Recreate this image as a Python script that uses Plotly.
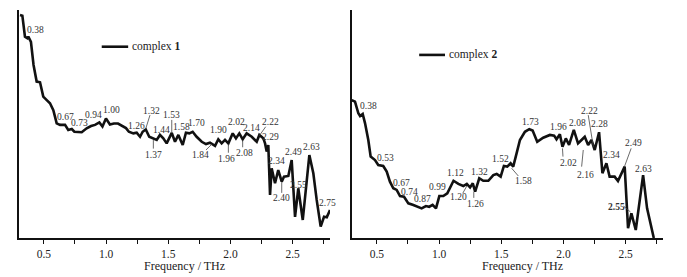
import plotly.graph_objects as go

# ---------------- data (frequency in THz, normalised absorbance, arbitrary units) ----------------
freq1 = [0.308, 0.327, 0.348, 0.367, 0.375, 0.396, 0.417, 0.442, 0.469, 0.495, 0.523, 0.549, 0.576,
         0.603, 0.630, 0.670, 0.696, 0.724, 0.745, 0.774, 0.804, 0.844, 0.879, 0.911, 0.946, 0.971,
         0.999, 1.031, 1.063, 1.096, 1.128, 1.160, 1.183, 1.219, 1.246, 1.273, 1.294, 1.319, 1.347,
         1.380, 1.407, 1.433, 1.460, 1.487, 1.514, 1.528, 1.554, 1.581, 1.616, 1.642, 1.669, 1.696,
         1.728, 1.769, 1.803, 1.835, 1.876, 1.902, 1.929, 1.956, 1.983, 2.018, 2.044, 2.071, 2.098,
         2.130, 2.171, 2.211, 2.232, 2.264, 2.278, 2.291, 2.304, 2.318, 2.331, 2.358, 2.384, 2.412,
         2.430, 2.465, 2.492, 2.519, 2.545, 2.581, 2.634, 2.666, 2.693, 2.725, 2.752, 2.774, 2.800]
abs1 = [0.978, 0.975, 0.883, 0.876, 0.883, 0.860, 0.759, 0.686, 0.683, 0.620, 0.605, 0.591, 0.561,
        0.503, 0.496, 0.496, 0.474, 0.478, 0.466, 0.465, 0.464, 0.481, 0.491, 0.496, 0.507, 0.489,
        0.524, 0.498, 0.502, 0.502, 0.493, 0.482, 0.466, 0.459, 0.462, 0.444, 0.466, 0.476, 0.444,
        0.437, 0.430, 0.452, 0.437, 0.415, 0.444, 0.461, 0.422, 0.452, 0.408, 0.462, 0.459, 0.466,
        0.444, 0.422, 0.412, 0.418, 0.404, 0.433, 0.415, 0.430, 0.415, 0.459, 0.437, 0.459, 0.433,
        0.459, 0.444, 0.422, 0.452, 0.437, 0.415, 0.379, 0.408, 0.189, 0.306, 0.240, 0.298, 0.247,
        0.269, 0.272, 0.342, 0.093, 0.218, 0.079, 0.364, 0.284, 0.167, 0.050, 0.093, 0.091, 0.123]

freq2 = [0.298, 0.324, 0.351, 0.365, 0.386, 0.405, 0.431, 0.450, 0.485, 0.511, 0.551, 0.579, 0.605,
         0.632, 0.659, 0.686, 0.718, 0.753, 0.793, 0.833, 0.860, 0.894, 0.921, 0.948, 0.975, 1.002,
         1.034, 1.066, 1.088, 1.116, 1.155, 1.195, 1.223, 1.249, 1.271, 1.290, 1.323, 1.355, 1.396,
         1.436, 1.463, 1.495, 1.521, 1.548, 1.575, 1.596, 1.623, 1.650, 1.690, 1.725, 1.752, 1.789,
         1.837, 1.891, 1.925, 1.944, 1.971, 1.992, 2.019, 2.045, 2.083, 2.117, 2.145, 2.171, 2.198,
         2.225, 2.251, 2.286, 2.313, 2.345, 2.371, 2.411, 2.438, 2.492, 2.519, 2.546, 2.581, 2.640,
         2.672, 2.726]
abs2 = [0.605, 0.598, 0.547, 0.535, 0.544, 0.503, 0.430, 0.357, 0.342, 0.320, 0.316, 0.291, 0.247,
        0.218, 0.211, 0.184, 0.181, 0.152, 0.145, 0.135, 0.130, 0.140, 0.137, 0.145, 0.130, 0.184,
        0.184, 0.196, 0.218, 0.251, 0.237, 0.228, 0.237, 0.222, 0.240, 0.203, 0.262, 0.251, 0.251,
        0.276, 0.281, 0.269, 0.316, 0.313, 0.328, 0.313, 0.371, 0.430, 0.466, 0.477, 0.471, 0.422,
        0.440, 0.452, 0.449, 0.433, 0.455, 0.400, 0.437, 0.408, 0.474, 0.415, 0.430, 0.444, 0.408,
        0.430, 0.386, 0.464, 0.284, 0.328, 0.269, 0.269, 0.250, 0.313, 0.043, 0.108, 0.035, 0.276,
        0.130, 0.000]

# peak labels: text, and where each is written (x in THz, y in absorbance units)
peak_text1 = ["0.38", "0.67", "0.73", "0.94", "1.00", "1.26", "1.32", "1.44", "1.53", "1.58", "1.70",
              "1.37", "1.84", "1.90", "1.96", "2.02", "2.08", "2.14", "2.22", "2.29", "2.34", "2.40",
              "2.49", "2.55", "2.63", "2.75"]
peak_lx1 = [0.429, 0.670, 0.785, 0.897, 1.045, 1.246, 1.367, 1.447, 1.522, 1.608, 1.728,
            1.380, 1.755, 1.902, 1.970, 2.050, 2.111, 2.171, 2.323, 2.323, 2.372, 2.412,
            2.505, 2.547, 2.653, 2.780]
peak_ly1 = [0.912, 0.531, 0.503, 0.539, 0.561, 0.491, 0.558, 0.474, 0.539, 0.486, 0.506,
            0.364, 0.364, 0.474, 0.346, 0.507, 0.371, 0.484, 0.507, 0.444, 0.339, 0.174,
            0.379, 0.232, 0.398, 0.154]
# leader lines (x0, y0, x1, y1)
leaders1 = [(1.353, 0.539, 1.318, 0.478), (1.528, 0.518, 1.528, 0.461), (1.380, 0.430, 1.380, 0.392),
            (1.803, 0.386, 1.851, 0.412), (1.983, 0.412, 1.983, 0.374), (2.098, 0.430, 2.098, 0.398),
            (2.283, 0.488, 2.232, 0.449), (2.412, 0.245, 2.412, 0.198)]

peak_text2 = ["0.38", "0.53", "0.67", "0.74", "0.87", "0.99", "1.12", "1.20", "1.26", "1.32", "1.52",
              "1.58", "1.73", "1.96", "2.02", "2.08", "2.16", "2.22", "2.28", "2.34", "2.49",
              "<b>2.55</b>", "2.63"]
peak_lx2 = [0.431, 0.573, 0.700, 0.766, 0.869, 0.986, 1.128, 1.155, 1.289, 1.324, 1.490,
            1.678, 1.731, 1.958, 2.039, 2.111, 2.173, 2.213, 2.289, 2.388, 2.562,
            2.424, 2.642]
peak_ly2 = [0.579, 0.350, 0.240, 0.203, 0.170, 0.222, 0.284, 0.179, 0.149, 0.288, 0.346,
            0.251, 0.510, 0.486, 0.330, 0.503, 0.276, 0.558, 0.500, 0.364, 0.415,
            0.137, 0.301]
leaders2 = [(1.190, 0.196, 1.223, 0.228), (1.279, 0.203, 1.279, 0.176), (1.637, 0.272, 1.583, 0.306),
            (1.992, 0.393, 1.996, 0.357), (2.159, 0.386, 2.146, 0.313), (2.199, 0.539, 2.240, 0.400),
            (2.544, 0.393, 2.490, 0.313), (2.483, 0.140, 2.539, 0.114)]

x_ticks = [0.5, 1.0, 1.5, 2.0, 2.5]
x_range = [0.3, 2.8]
series_names = ["complex <b>1</b>", "complex <b>2</b>"]

# ---------------- figure ----------------
FONT = "Liberation Serif, Times New Roman, serif"
# the page body has an 8px margin, so the figure is drawn 8px smaller and offset
OFF = 8
W, H = 687 - OFF, 277 - OFF


def px(x):
    return (x - OFF) / W


def py(y):
    return (H - (y - OFF)) / H


fig = go.Figure()
fig.add_trace(go.Scatter(x=freq1, y=abs1, mode="lines", line=dict(color="#111", width=2.6),
                         xaxis="x", yaxis="y", showlegend=False, hoverinfo="skip"))
fig.add_trace(go.Scatter(x=freq2, y=abs2, mode="lines", line=dict(color="#111", width=2.6),
                         xaxis="x2", yaxis="y2", showlegend=False, hoverinfo="skip"))

annotations = []
shapes = []
for txts, lx, ly, leads, xr, yr in [(peak_text1, peak_lx1, peak_ly1, leaders1, "x", "y"),
                                    (peak_text2, peak_lx2, peak_ly2, leaders2, "x2", "y2")]:
    for t, x, y in zip(txts, lx, ly):
        annotations.append(dict(text=t, x=x, y=y, xref=xr, yref=yr, showarrow=False,
                                font=dict(family=FONT, size=9.5, color="#333"),
                                xanchor="center", yanchor="middle"))
    for (x0, y0, x1, y1) in leads:
        shapes.append(dict(type="line", x0=x0, y0=y0, x1=x1, y1=y1, xref=xr, yref=yr,
                           line=dict(color="#444", width=0.8)))

# legends (drawn manually)
for name, xr, yr, lx0, lx1, ly in [(series_names[0], "x domain", "y domain", 0.266, 0.351, 0.839),
                                   (series_names[1], "x2 domain", "y2 domain", 0.216, 0.299, 0.803)]:
    shapes.append(dict(type="line", x0=lx0, x1=lx1, y0=ly, y1=ly, xref=xr, yref=yr,
                       line=dict(color="#111", width=2.6)))
    annotations.append(dict(text=name, x=lx1 + 0.005, y=ly, xref=xr, yref=yr, showarrow=False,
                            xanchor="left", yanchor="middle",
                            font=dict(family=FONT, size=11.5, color="#222")))

# axis titles
for xc in [184, 522]:
    annotations.append(dict(text="Frequency / THz", x=px(xc), y=py(265.5), xref="paper", yref="paper",
                            showarrow=False, xanchor="center", yanchor="middle",
                            font=dict(family=FONT, size=12, color="#222")))

xaxis_common = dict(range=x_range, showline=True, linecolor="#111", linewidth=1.5,
                    ticks="outside", ticklen=4, tickwidth=1.2, tickcolor="#111",
                    tickvals=x_ticks, tickformat=".1f", showgrid=False, zeroline=False,
                    tickfont=dict(family=FONT, size=11.5, color="#222"),
                    minor=dict(ticks="outside", ticklen=4, tickwidth=1.2, tickcolor="#111",
                               dtick=0.25, tick0=0.25, showgrid=False))
yaxis_common = dict(range=[0, 1.0], showline=True, linecolor="#111", linewidth=1.5,
                    ticks="", showticklabels=False, showgrid=False, zeroline=False)

fig.update_layout(
    width=W, height=H,
    margin=dict(l=0, r=0, t=0, b=0),
    paper_bgcolor="white", plot_bgcolor="white",
    xaxis=dict(domain=[px(19), px(330)], anchor="y", **xaxis_common),
    yaxis=dict(domain=[py(238), py(10)], anchor="x", **yaxis_common),
    xaxis2=dict(domain=[px(352), px(663)], anchor="y2", **xaxis_common),
    yaxis2=dict(domain=[py(238), py(10)], anchor="x2", **yaxis_common),
    annotations=annotations,
    shapes=shapes,
    showlegend=False,
)

fig.write_html("out.html")
